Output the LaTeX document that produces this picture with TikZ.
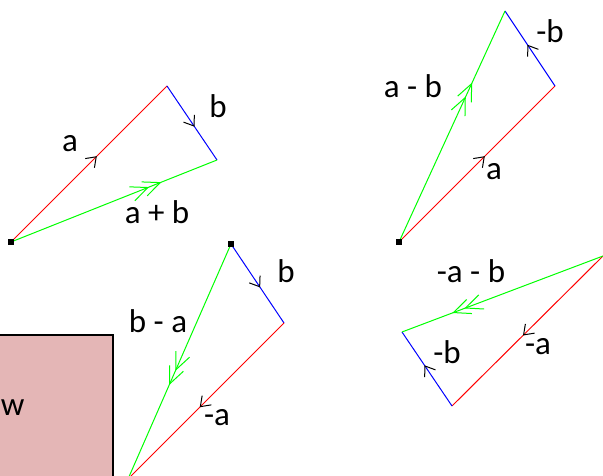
\documentclass[tikz,border=0pt]{standalone}
\usepackage{fontspec}
\setmainfont{Carlito}
\usepackage{xcolor}
\usepackage{tikz}
\usetikzlibrary{arrows.meta,decorations.markings}

\begin{document}
\begin{tikzpicture}[x=1pt,y=-1pt,line width=1pt,font=\fontsize{33}{38}\selectfont,
    onearrow/.style={decoration={markings,mark=at position #1 with {\arrow[black]{Straight Barb[length=9pt,width=13pt]}}},postaction={decorate}},
    twoarrow/.style={decoration={markings,
        mark=at position #1 with {\arrow{Straight Barb[length=17pt,width=15pt]}},
        mark=at position #1-0.06 with {\arrow{Straight Barb[length=17pt,width=15pt]}}},postaction={decorate}},
    lbl/.style={anchor=base,inner sep=0pt},
    origin/.style={fill=black,minimum size=6pt,inner sep=0pt}]
    \definecolor{vR}{RGB}{255,0,0}\definecolor{vB}{RGB}{0,0,255}
    \definecolor{vG}{RGB}{0,255,0}\definecolor{boxfill}{RGB}{228,182,182}
    \useasboundingbox (0,0) rectangle (603,476);
    \clip (0,0) rectangle (603,476);
    % ---------- a + b ----------
    \coordinate (o1) at (11,242);
    \coordinate (a1) at (167,86);
    \coordinate (b1) at (217,160);
    \draw[vR,onearrow=0.55] (o1) -- (a1);
    \draw[vB,onearrow=0.55] (a1) -- (b1);
    \draw[vG,twoarrow=0.73] (o1) -- (b1);
    \node[origin] (s1) at (o1) {};
    \node[lbl] (la1) at (70,152) {a};
    \node[lbl] (lb1) at (218,118) {b};
    \node[lbl] (lab1) at (157,224) {a + b};
    % ---------- b - a ----------
    \coordinate (o2) at (231,244);
    \coordinate (b2) at (284,323);
    \coordinate (c2) at (128,479);
    \draw[vB,onearrow=0.55] (o2) -- (b2);
    \draw[vR,onearrow=0.54] (b2) -- (c2);
    \draw[vG,twoarrow=0.60] (o2) -- (c2);
    \node[origin] (s2) at (o2) {};
    \node[lbl] (lb2) at (286,282) {b};
    \node[lbl] (lba2) at (158,332) {b - a};
    \node[lbl] (la2) at (217,425) {-a};
    % ---------- a - b ----------
    \coordinate (o3) at (399,242);
    \coordinate (a3) at (555,86);
    \coordinate (c3) at (505,11);
    \draw[vR,onearrow=0.55] (o3) -- (a3);
    \draw[vB,onearrow=0.55] (a3) -- (c3);
    \draw[vG,twoarrow=0.69] (o3) -- (c3);
    \node[origin] (s3) at (o3) {};
    \node[lbl] (lab3) at (413,98) {a - b};
    \node[lbl] (lb3) at (550,43) {-b};
    \node[lbl] (la3) at (494,180) {a};
    % ---------- -a - b ----------
    \coordinate (o4) at (603,256);
    \coordinate (a4) at (452,406);
    \coordinate (c4) at (402,332);
    \draw[vR,onearrow=0.53] (o4) -- (a4);
    \draw[vB,onearrow=0.55] (a4) -- (c4);
    \draw[vG,twoarrow=0.75] (o4) -- (c4);
    \node[lbl] (lab4) at (471,282) {-a - b};
    \node[lbl] (lb4) at (447,363) {-b};
    \node[lbl] (la4) at (538,354) {-a};
    % ---------- box ----------
    \draw[line width=2pt,fill=boxfill] (-5,335) rectangle (113,490);
    \node[anchor=base east,inner sep=0pt] (boxtext) at (25,415) {aw};
\end{tikzpicture}
\end{document}
